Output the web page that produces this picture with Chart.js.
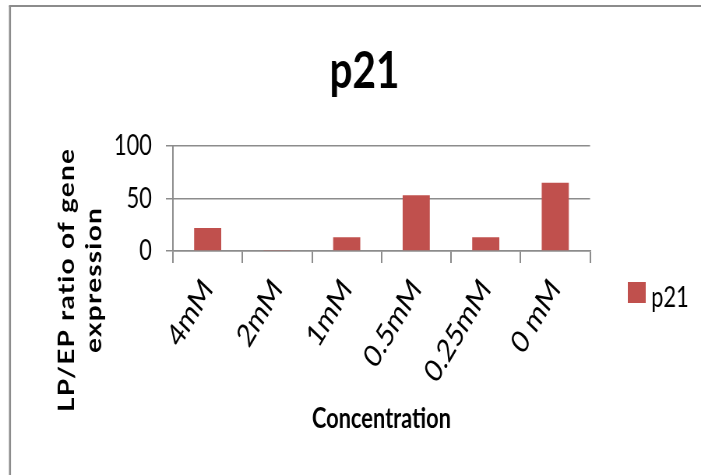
<!DOCTYPE html>
<html>
<head>
<meta charset="utf-8">
<script src="https://cdn.jsdelivr.net/npm/chart.js@4.4.0/dist/chart.umd.min.js"></script>
<style>
  html, body { margin: 0; padding: 0; background: #fff; overflow: hidden; }
  /* the source picture is squeezed horizontally, so the chart is drawn wider and scaled back */
  #wrap { width: 900px; height: 475px; transform: scaleX(0.7789); transform-origin: 0 0; }
</style>
</head>
<body>
<div id="wrap"><canvas id="barChart" width="900" height="475"></canvas></div>
<script>
const categories = ["4mM", "2mM", "1mM", "0.5mM", "0.25mM", "0 mM"];
const p21Values = [22, 1, 13, 53, 13, 65];
const yTicks = [0, 50, 100];
const seriesName = "p21";
const chartTitle = "p21";
const xTitle = "Concentration";
const yTitleLines = ["LP/EP ratio of gene", "expression"];

const barColor = "#C0504D";
const gridColor = "#8C8C8C";
const FONT = "Lato, 'Open Sans', sans-serif";

// title, axis titles, legend and outer frame
const decorations = {
  id: "decorations",
  afterDraw(chart) {
    const ctx = chart.ctx;
    const area = chart.chartArea;
    ctx.save();

    ctx.strokeStyle = gridColor;
    ctx.lineWidth = 2.6;
    ctx.beginPath();
    ctx.moveTo(12.8, 475);
    ctx.lineTo(12.8, 6);
    ctx.stroke();
    ctx.lineWidth = 2;
    ctx.beginPath();
    ctx.moveTo(11.5, 6);
    ctx.lineTo(900, 6);
    ctx.stroke();

    ctx.fillStyle = "#000";
    ctx.textAlign = "center";
    ctx.textBaseline = "alphabetic";
    ctx.font = "bold 52px " + FONT;
    ctx.fillText(chartTitle, 468, 88);

    ctx.font = "bold 28px " + FONT;
    ctx.fillText(xTitle, (area.left + area.right) / 2, 428);

    ctx.textBaseline = "middle";
    ctx.letterSpacing = "1.2px";
    const lineX = [86, 121];
    yTitleLines.forEach((line, i) => {
      ctx.save();
      ctx.translate(lineX[i], 280);
      ctx.rotate(-Math.PI / 2);
      ctx.fillText(line, 0, 0);
      ctx.restore();
    });
    ctx.letterSpacing = "0px";

    const ds = chart.data.datasets[0];
    ctx.fillStyle = ds.backgroundColor;
    ctx.fillRect(806, 282, 23, 21);
    ctx.fillStyle = "#000";
    ctx.textAlign = "left";
    ctx.textBaseline = "alphabetic";
    ctx.font = "28px " + FONT;
    ctx.fillText(ds.label, 836, 307);

    ctx.restore();
  }
};

const ctx = document.getElementById("barChart");
const chart = new Chart(ctx, {
  type: "bar",
  data: {
    labels: categories,
    datasets: [
      {
        label: seriesName,
        data: p21Values,
        backgroundColor: barColor,
        categoryPercentage: 1,
        barPercentage: 0.39,
      },
    ],
  },
  options: {
    responsive: false,
    animation: false,
    devicePixelRatio: 1,
    layout: { padding: { top: 146, left: 0, right: 142.5, bottom: 0 } },
    plugins: {
      legend: { display: false },
      title: { display: false },
      tooltip: { enabled: false },
    },
    scales: {
      x: {
        afterFit: (scale) => { scale.height = 224; },
        grid: {
          offset: true,
          drawOnChartArea: false,
          tickLength: 12,
          color: gridColor,
          lineWidth: 2,
        },
        border: { display: true, color: gridColor, width: 1.5 },
        ticks: {
          autoSkip: false,
          minRotation: 53,
          maxRotation: 53,
          padding: 9,
          color: "#000",
          font: { family: FONT, size: 32 },
        },
      },
      y: {
        min: 0,
        max: 100,
        afterFit: (scale) => { scale.width = 222; },
        afterBuildTicks: (scale) => { scale.ticks = yTicks.map((v) => ({ value: v })); },
        grid: { color: gridColor, lineWidth: 1.5, tickLength: 9 },
        border: { display: true, color: gridColor, width: 2 },
        ticks: {
          padding: 18,
          color: "#000",
          font: { family: FONT, size: 28 },
        },
      },
    },
  },
  plugins: [decorations],
});
</script>
</body>
</html>
